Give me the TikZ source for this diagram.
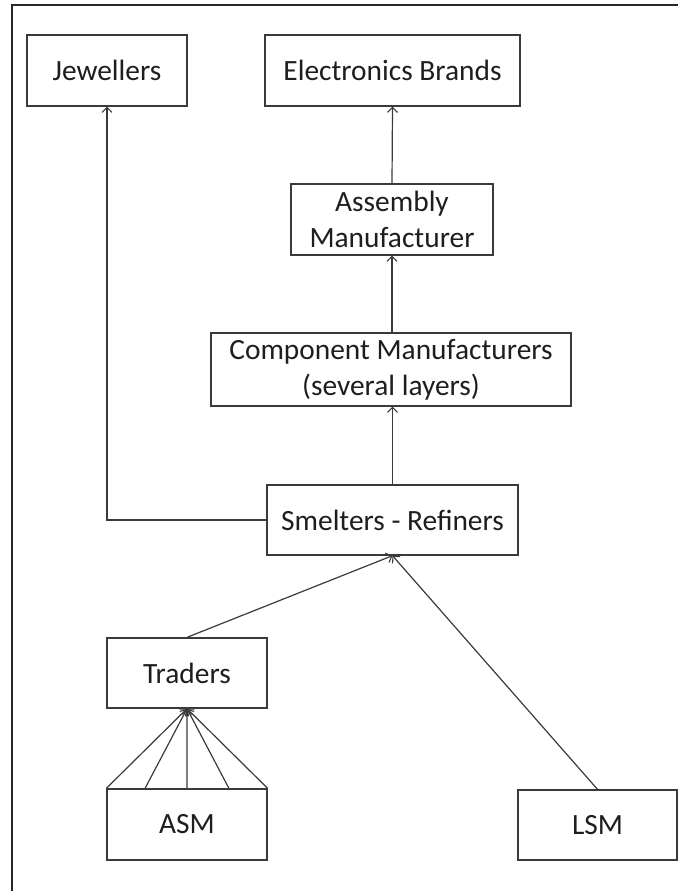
\documentclass[tikz,border=0pt]{standalone}
\usepackage{fontspec}
\setmainfont{Carlito}
\usetikzlibrary{arrows.meta,calc}
\definecolor{linegrey}{HTML}{3A3A3A}
\definecolor{textgrey}{HTML}{1E1E1E}
\tikzset{
  box/.style={draw=linegrey, line width=1.3bp, inner sep=0pt, align=center,
    text=textgrey, font=\fontsize{29.5}{36}\selectfont},
  flow/.style={draw=linegrey, line width=1.2bp,
    -{Straight Barb[length=5bp,width=10bp,line width=1.1bp]}},
  plain/.style={draw=linegrey, line width=1.2bp},
  frame/.style={draw=black!85, line width=2bp}
}
\begin{document}
\begin{tikzpicture}[x=1bp,y=-1bp]
  \useasboundingbox (0,0) rectangle (678,891);
  % frame edges
  \coordinate (fl) at (11.5,891);
  \coordinate (fc) at (11.5,5);
  \coordinate (fr) at (678,5);
  \draw[frame] (fl) -- (fc) -- (fr);

  % boxes
  \node[box, minimum width=160bp, minimum height=71bp] (jew) at (107,70.5) {Jewellers};
  \node[box, minimum width=255bp, minimum height=71bp] (eb) at (392.5,70.5) {Electronics Brands};
  \node[box, minimum width=202bp, minimum height=71bp] (asm) at (392,219.5) {Assembly\\Manufacturer};
  \node[box, minimum width=360bp, minimum height=73bp] (comp) at (391,369.5) {Component Manufacturers\\(several layers)};
  \node[box, minimum width=251bp, minimum height=70bp] (smelt) at (392.5,520) {Smelters - Refiners};
  \node[box, minimum width=160bp, minimum height=70bp] (trad) at (187,673) {Traders};
  \node[box, minimum width=160bp, minimum height=71bp] (asmine) at (187,824.5) {ASM};
  \node[box, minimum width=159bp, minimum height=70bp] (lsm) at (597.5,825) {LSM};

  % upward flows
  \draw[flow] (asm.north) -- (eb.south);
  \draw[flow] (comp.north -| asm.north) -- (asm.south);
  \draw[flow] (smelt.north) -- (smelt.north |- comp.south);
  \draw[flow] (smelt.west) -- (jew.south |- smelt.west) -- (jew.south);
  \draw[flow] (trad.north) -- (smelt.south);
  \draw[flow] (lsm.north) -- (smelt.south);

  % fan of artisanal mines into traders
  \foreach \t in {0,0.24,0.5,0.76,1} {
    \draw[flow] ($(asmine.north west)!\t!(asmine.north east)$) -- (trad.south);
  }
\end{tikzpicture}
\end{document}
